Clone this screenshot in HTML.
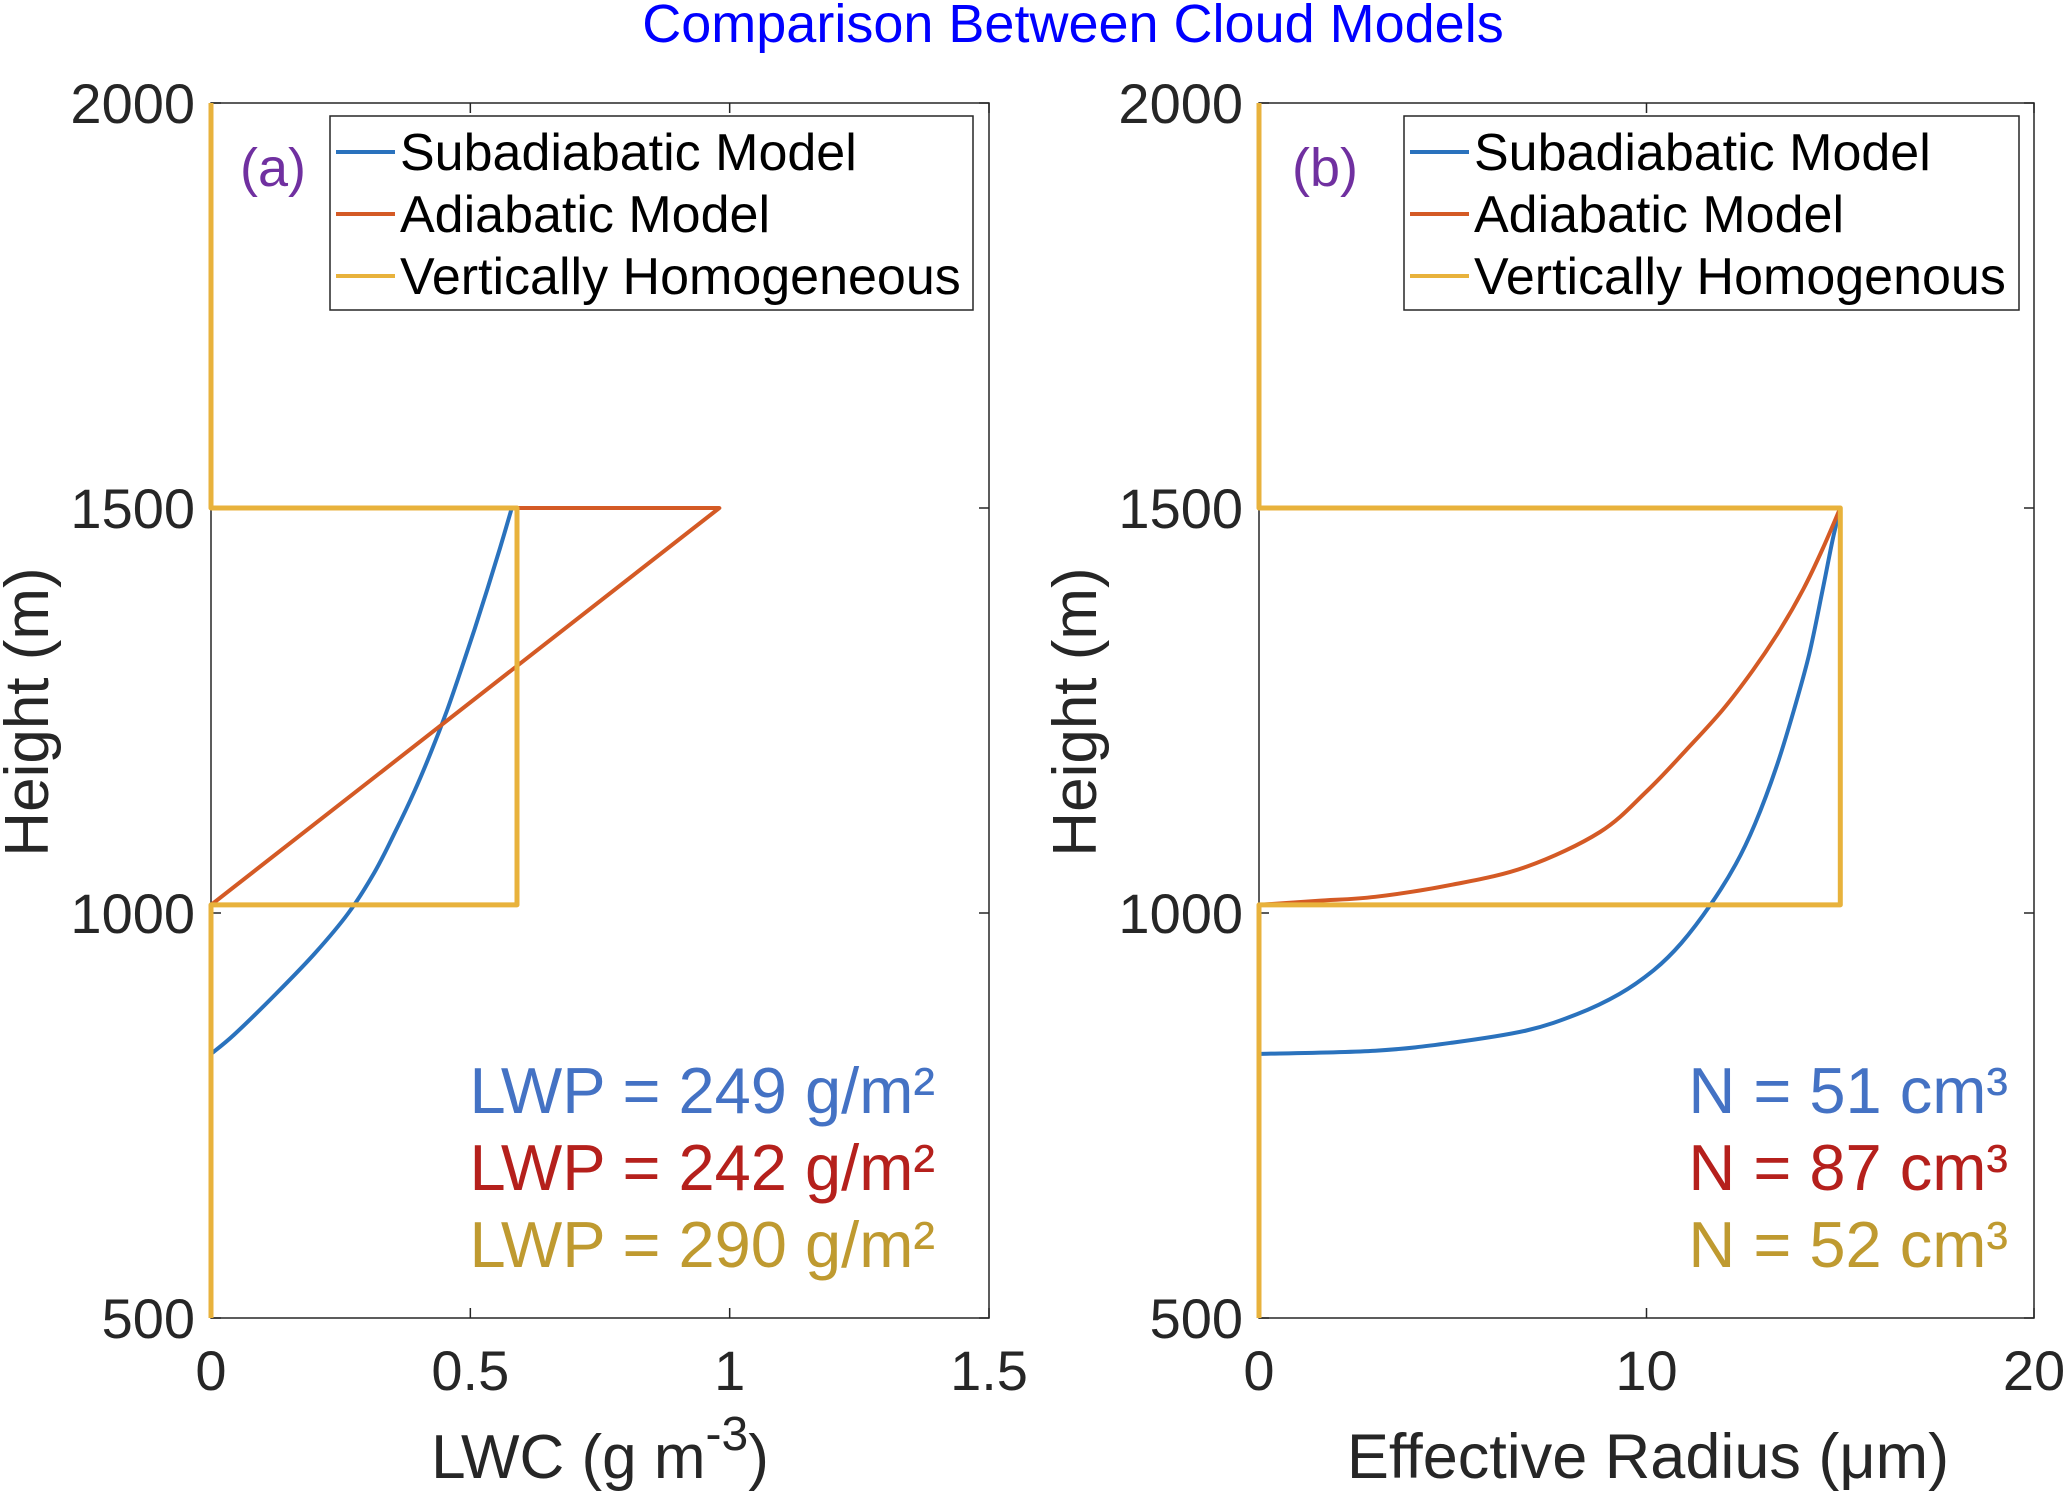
<!DOCTYPE html>
<html><head><meta charset="utf-8"><style>
html,body{margin:0;padding:0;background:#fff;width:2067px;height:1500px;overflow:hidden}
svg{display:block;font-family:"Liberation Sans",Arial,sans-serif}
</style></head><body>
<svg id="chart" width="2067" height="1500" viewBox="0 0 2067 1500" xmlns="http://www.w3.org/2000/svg">
<text x="1073" y="42" font-size="54" fill="#0000ff" text-anchor="middle">Comparison Between Cloud Models</text>
</svg>
<script>
// Panel (a) LWC data
const lwcSubH = [826,850,900,950,1000,1050,1100,1150,1200,1250,1300,1350,1400,1450,1500];
const lwcSubX = [0,0.045,0.125,0.2,0.265,0.315,0.355,0.392,0.425,0.455,0.482,0.508,0.533,0.557,0.58];
const lwcAdiH = [1010,1500,1500];
const lwcAdiX = [0,0.98,0];
const lwcHomH = [500,1010,1010,1500,1500,2000];
const lwcHomX = [0,0,0.59,0.59,0,0];
const lwcTicks = [0,0.5,1,1.5];
const lwcTickLabels = ["0","0.5","1","1.5"];
// Panel (b) effective radius data
const reSubH = [826,830,840,855,875,900,930,963,1010,1060,1110,1180,1250,1320,1400,1460,1500];
const reSubX = [0,3,5,6.9,8.2,9.3,10.2,10.9,11.65,12.3,12.8,13.35,13.8,14.2,14.55,14.8,15];
const reAdiH = [1010,1015,1020,1035,1057,1100,1150,1200,1250,1300,1350,1400,1450,1500];
const reAdiX = [0,1.5,3,5,6.9,8.8,10.0,11.0,11.95,12.75,13.45,14.05,14.55,15];
const reHomH = [500,1010,1010,1500,1500,2000];
const reHomX = [0,0,15,15,0,0];
const reTicks = [0,10,20];
const reTickLabels = ["0","10","20"];
const hTicks = [500,1000,1500,2000];
const hTickLabels = ["500","1000","1500","2000"];
const legendLabelsA = ["Subadiabatic Model","Adiabatic Model","Vertically Homogeneous"];
const legendLabelsB = ["Subadiabatic Model","Adiabatic Model","Vertically Homogenous"];
const lwpLabels = ["249","242","290"];
const nLabels = ["51","87","52"];

const NS="http://www.w3.org/2000/svg";
const svg=document.getElementById('chart');
const COLS=['#2a72bd','#d45a25','#e8b23c'];
const TXTC=['#4472c4','#b5201c','#bf9a30'];
function mk(tag,attrs,parent){const e=document.createElementNS(NS,tag);for(const k in attrs)e.setAttribute(k,attrs[k]);(parent||svg).appendChild(e);return e;}
function smoothPath(pts){
  let d='M'+pts[0][0].toFixed(1)+','+pts[0][1].toFixed(1);
  for(let i=0;i<pts.length-1;i++){
    const p0=pts[Math.max(0,i-1)],p1=pts[i],p2=pts[i+1],p3=pts[Math.min(pts.length-1,i+2)];
    const c1=[p1[0]+(p2[0]-p0[0])/6,p1[1]+(p2[1]-p0[1])/6];
    const c2=[p2[0]-(p3[0]-p1[0])/6,p2[1]-(p3[1]-p1[1])/6];
    d+=` C${c1[0].toFixed(1)},${c1[1].toFixed(1)} ${c2[0].toFixed(1)},${c2[1].toFixed(1)} ${p2[0].toFixed(1)},${p2[1].toFixed(1)}`;
  }
  return d;
}

function panel(o){
  const g=mk('g',{});
  
  
  const X=v=>o.l+(v-o.xmin)/(o.xmax-o.xmin)*(o.r-o.l);
  const Y=v=>o.b-(v-500)/(2000-500)*(o.b-o.t);
  const box=mk('rect',{x:o.l,y:o.t,width:o.r-o.l,height:o.b-o.t,fill:'none',stroke:'#262626','stroke-width':1.5},g);
  
  
  o.xt.forEach((v,i)=>{
    const x=X(v);
    mk('line',{x1:x,y1:o.b,x2:x,y2:o.b-10,stroke:'#262626','stroke-width':1.5},g);
    mk('line',{x1:x,y1:o.t,x2:x,y2:o.t+10,stroke:'#262626','stroke-width':1.5},g);
    const t=mk('text',{x:x,y:o.b+72,'font-size':56,fill:'#262626','text-anchor':'middle'},g);
    t.textContent=o.xl[i];
    
    
  });
  hTicks.forEach((v,i)=>{
    const y=Y(v);
    mk('line',{x1:o.l,y1:y,x2:o.l+10,y2:y,stroke:'#262626','stroke-width':1.5},g);
    mk('line',{x1:o.r,y1:y,x2:o.r-10,y2:y,stroke:'#262626','stroke-width':1.5},g);
    const t=mk('text',{x:o.l-16,y:y+20,'font-size':56,fill:'#262626','text-anchor':'end'},g);
    t.textContent=hTickLabels[i];
    
    
  });
  o.series.forEach((s,k)=>{
    const pts=s.h.map((h,i)=>[X(s.x[i]),Y(h)]);
    const d=s.smooth?smoothPath(pts):pts.map((p,i)=>(i?'L':'M')+p[0].toFixed(1)+','+p[1].toFixed(1)).join(' ');
    const p=mk('path',{d:d,fill:'none',stroke:COLS[k],'stroke-width':k==2?5:4,'stroke-linejoin':'round'},g);
    
    
  });
  const yl=mk('text',{x:0,y:0,'font-size':62,fill:'#262626','text-anchor':'middle',transform:`translate(${o.ylx},712) rotate(-90)`},g);
  yl.textContent='Height (m)';
  
  
  const xl=mk('text',{x:o.xlx,y:1478,'font-size':o.xlfs,fill:'#262626','text-anchor':'middle'},g);
  xl.innerHTML=o.xlab;
  
  
  const pl=mk('text',{x:o.px,y:186,'font-size':54,fill:'#7030a0','text-anchor':'middle'},g);
  pl.textContent=o.plabel;
  
  
  const lg=mk('g',{},g);
  
  
  mk('rect',{x:o.lgx,y:116,width:o.lgw,height:194,fill:'#fff',stroke:'#262626','stroke-width':1.5},lg);
  o.leg.forEach((lab,k)=>{
    const y=152+k*62;
    const ln=mk('line',{x1:o.lgx+6,y1:y,x2:o.lgx+65,y2:y,stroke:COLS[k],'stroke-width':4},lg);
    
    
    const t=mk('text',{x:o.lgx+70,y:y+18,'font-size':52,fill:'#000'},lg);
    t.textContent=lab;
    
    
  });
  o.ann.forEach((a,k)=>{
    const t=mk('text',{x:o.annx,y:1113+k*77,'font-size':65,fill:TXTC[k],'text-anchor':'end'},g);
    t.textContent=a;
    
    
  });
}
panel({name:'panel-a-lwc',l:211,r:989,t:103,b:1318,xmin:0,xmax:1.5,xt:lwcTicks,xl:lwcTickLabels,
  series:[{name:'lwc-subadiabatic-line',h:lwcSubH,x:lwcSubX,smooth:true},{name:'lwc-adiabatic-line',h:lwcAdiH,x:lwcAdiX},{name:'lwc-homogeneous-line',h:lwcHomH,x:lwcHomX}],
  ylx:48,xlx:600,xlfs:62,xlab:'LWC (g m<tspan dy="-28" font-size="48">-3</tspan><tspan dy="28">)</tspan>',px:273,plabel:'(a)',lgx:330,lgw:643,leg:legendLabelsA,
  ann:lwpLabels.map(v=>'LWP = '+v+' g/m\u00b2'),annx:935});
panel({name:'panel-b-effective-radius',l:1259,r:2034,t:103,b:1318,xmin:0,xmax:20,xt:reTicks,xl:reTickLabels,
  series:[{name:'re-subadiabatic-line',h:reSubH,x:reSubX,smooth:true},{name:'re-adiabatic-line',h:reAdiH,x:reAdiX,smooth:true},{name:'re-homogeneous-line',h:reHomH,x:reHomX}],
  ylx:1096,xlx:1648,xlfs:63,xlab:'Effective Radius (\u03bcm)',px:1325,plabel:'(b)',lgx:1404,lgw:615,leg:legendLabelsB,
  ann:nLabels.map(v=>'N = '+v+' cm\u00b3'),annx:2008});
</script>
</body></html>
